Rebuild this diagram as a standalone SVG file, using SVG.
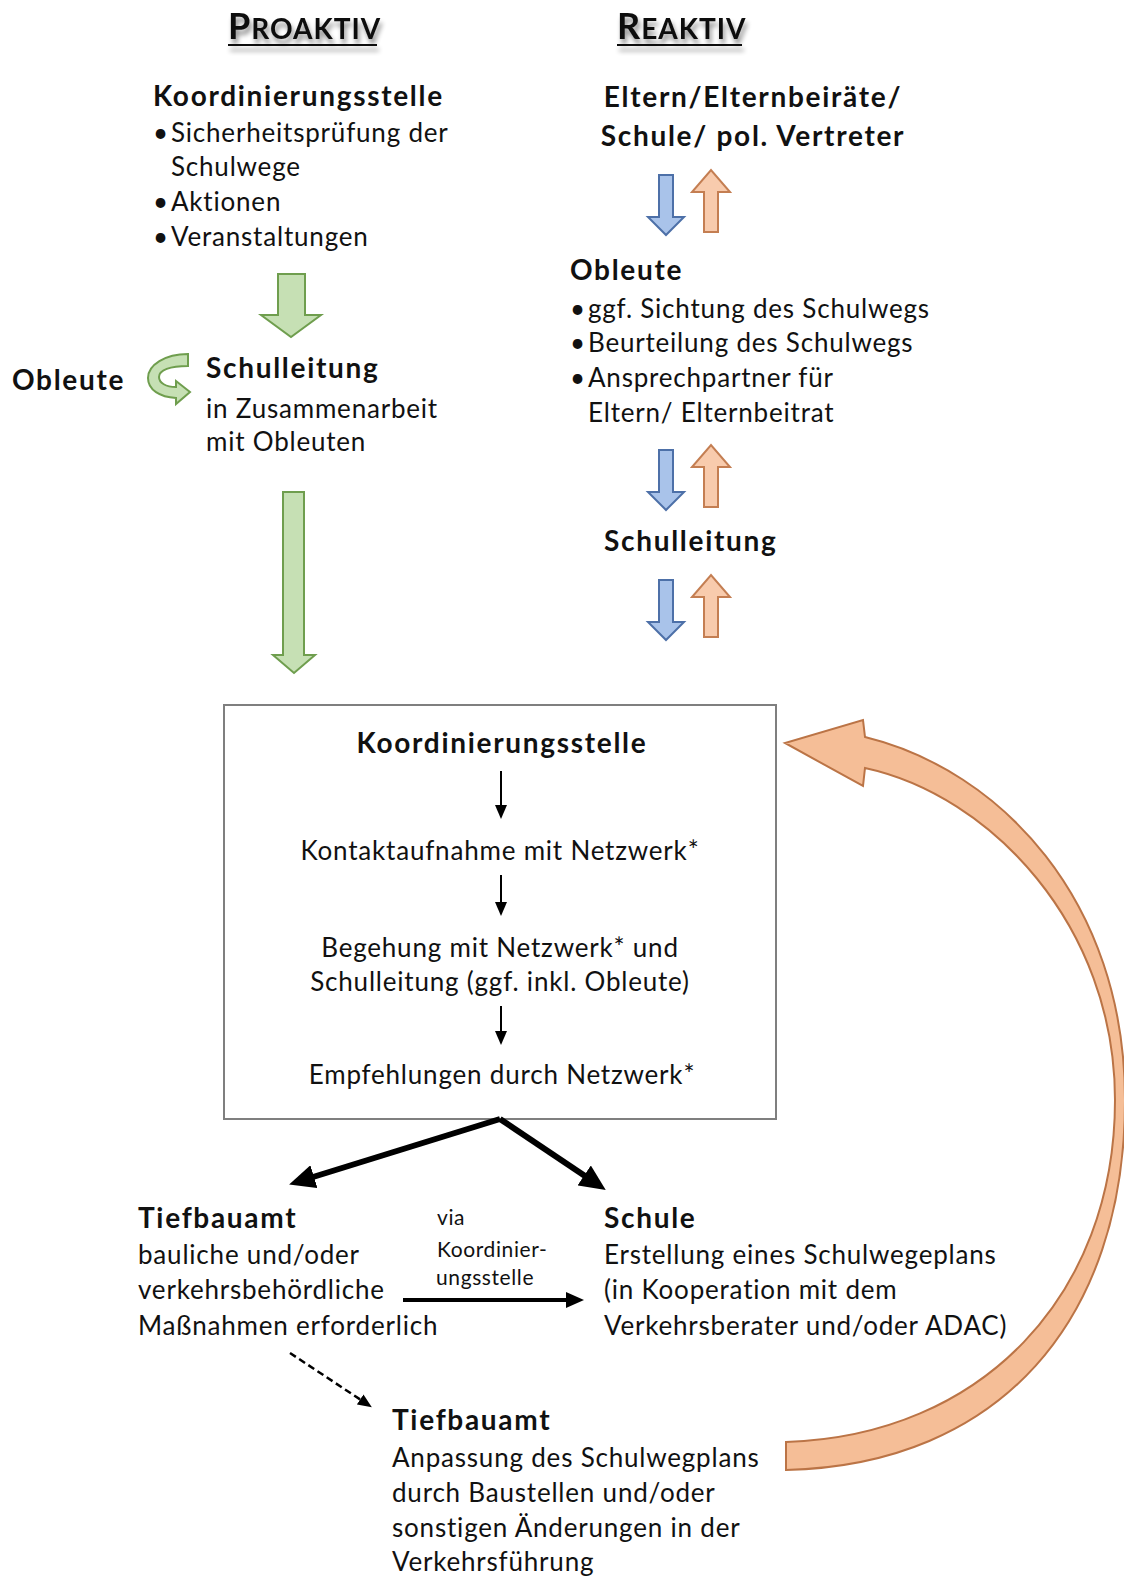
<svg xmlns="http://www.w3.org/2000/svg" width="1124" height="1578" viewBox="0 0 1124 1578">
<style>
text{font-family:Lato,"Open Sans","Liberation Sans",sans-serif;fill:#111}
.b{font-weight:bold;font-size:28px;letter-spacing:1.7px}
.r{font-size:26px;letter-spacing:0.8px}
.s{font-size:21px;letter-spacing:0.6px}
.mid{text-anchor:middle}
.hd{font-family:Lato,"Open Sans","Liberation Sans",sans-serif;font-weight:bold;fill:#111;letter-spacing:1px}
.green{fill:#C6E0B4;stroke:#6F9E4E;stroke-width:2;stroke-linejoin:miter}
.blue{fill:#A9C3EA;stroke:#4D70A8;stroke-width:2}
.org{fill:#F8CBAD;stroke:#C47E52;stroke-width:2}
.thin{stroke:#000;stroke-width:2;fill:none}
.thick{stroke:#000;stroke-width:6;fill:none}
</style>
<defs>
<filter id="sh" x="-10%" y="-30%" width="120%" height="180%">
<feGaussianBlur in="SourceAlpha" stdDeviation="2.5"/>
<feOffset dx="2" dy="5" result="o"/>
<feComponentTransfer><feFuncA type="linear" slope="0.45"/></feComponentTransfer>
<feMerge><feMergeNode/><feMergeNode in="SourceGraphic"/></feMerge>
</filter>
<marker id="ah" markerUnits="userSpaceOnUse" markerWidth="14" markerHeight="12" refX="1" refY="6" orient="auto" viewBox="0 0 14 12"><path d="M0,0 L14,6 L0,12 Z" fill="#000"/></marker>
<marker id="ahT" markerUnits="userSpaceOnUse" markerWidth="26" markerHeight="24" refX="1" refY="12" orient="auto" viewBox="0 0 26 24"><path d="M0,0 L26,12 L0,24 Z" fill="#000"/></marker>
<marker id="ahM" markerUnits="userSpaceOnUse" markerWidth="18" markerHeight="18" refX="1" refY="9" orient="auto" viewBox="0 0 18 18"><path d="M0,1 L18,9 L0,17 Z" fill="#000"/></marker>
<path id="down" d="M-7,0 L7,0 L7,42 L18,42 L0,60 L-18,42 L-7,42 Z"/>
<path id="up" d="M-7,62 L7,62 L7,22 L19,22 L0,0 L-19,22 L-7,22 Z"/>
</defs>
<rect width="1124" height="1578" fill="#fff"/>

<g id="header-proaktiv" filter="url(#sh)">
<text class="hd" x="228" y="39"><tspan font-size="36">P</tspan><tspan font-size="28">ROAKTIV</tspan></text>
<line x1="228" y1="45" x2="377" y2="45" stroke="#111" stroke-width="2"/>
</g>
<g id="header-reaktiv" filter="url(#sh)">
<text class="hd" x="617" y="39"><tspan font-size="36">R</tspan><tspan font-size="28">EAKTIV</tspan></text>
<line x1="617" y1="45" x2="742" y2="45" stroke="#111" stroke-width="2"/>
</g>

<g id="node-koord-left">
<text class="b" x="153" y="106">Koordinierungsstelle</text>
<text class="r" x="153" y="142">•</text><text class="r" x="171" y="142">Sicherheitsprüfung der</text>
<text class="r" x="171" y="176">Schulwege</text>
<text class="r" x="153" y="211">•</text><text class="r" x="171" y="211">Aktionen</text>
<text class="r" x="153" y="246">•</text><text class="r" x="171" y="246">Veranstaltungen</text>
</g>

<g id="node-obleute-left">
<text class="b" x="12" y="390">Obleute</text>
</g>

<g id="node-schulleitung-left">
<text class="b" x="206" y="378">Schulleitung</text>
<text class="r" x="206" y="418">in Zusammenarbeit</text>
<text class="r" x="206" y="451">mit Obleuten</text>
</g>

<g id="node-eltern">
<text class="b mid" x="753" y="107">Eltern/Elternbeiräte/</text>
<text class="b mid" x="753" y="146">Schule/ pol. Vertreter</text>
</g>

<g id="node-obleute-right">
<text class="b" x="570" y="280">Obleute</text>
<text class="r" x="570" y="318">•</text><text class="r" x="588" y="318" letter-spacing="0.5">ggf. Sichtung des Schulwegs</text>
<text class="r" x="570" y="352">•</text><text class="r" x="588" y="352">Beurteilung des Schulwegs</text>
<text class="r" x="570" y="387">•</text><text class="r" x="588" y="387">Ansprechpartner für</text>
<text class="r" x="588" y="422">Eltern/ Elternbeitrat</text>
</g>

<g id="node-schulleitung-right">
<text class="b" x="604" y="551">Schulleitung</text>
</g>

<g id="node-box">
<rect x="224" y="705" width="552" height="414" fill="#fff" stroke="#7f7f7f" stroke-width="2"/>
<text class="b mid" x="502" y="753">Koordinierungsstelle</text>
<text class="r mid" x="500" y="860">Kontaktaufnahme mit Netzwerk*</text>
<text class="r mid" x="500" y="957">Begehung mit Netzwerk* und</text>
<text class="r mid" x="500" y="991">Schulleitung (ggf. inkl. Obleute)</text>
<text class="r mid" x="502" y="1084">Empfehlungen durch Netzwerk*</text>
</g>

<g id="node-tiefbauamt-1">
<text class="b" x="138" y="1228">Tiefbauamt</text>
<text class="r" x="138" y="1264">bauliche und/oder</text>
<text class="r" x="138" y="1299">verkehrsbehördliche</text>
<text class="r" x="138" y="1335">Maßnahmen erforderlich</text>
</g>

<g id="node-schule">
<text class="b" x="604" y="1228">Schule</text>
<text class="r" x="604" y="1264">Erstellung eines Schulwegeplans</text>
<text class="r" x="604" y="1299">(in Kooperation mit dem</text>
<text class="r" x="604" y="1335">Verkehrsberater und/oder ADAC)</text>
</g>

<g id="node-tiefbauamt-2">
<text class="b" x="392" y="1430">Tiefbauamt</text>
<text class="r" x="392" y="1467">Anpassung des Schulwegplans</text>
<text class="r" x="392" y="1502">durch Baustellen und/oder</text>
<text class="r" x="392" y="1537">sonstigen Änderungen in der</text>
<text class="r" x="392" y="1571">Verkehrsführung</text>
</g>

<g id="connectors">
<polygon class="green" points="278,274 305,274 305,315 321,315 291,337 261,315 278,315"/>
<polygon class="green" points="283,492 304,492 304,655 315,655 294,673 273,655 283,655"/>
<path class="green" d="M188,354 C165,354 148,365 148,378 C148,390 160,397 176,398 L176,404 L190,392 L176,381 L176,387 C166,387 159,383 159,377 C159,370 170,366 188,366 Z"/>

<use href="#down" class="blue" x="666" y="175"/>
<use href="#up" class="org" x="711" y="170"/>
<use href="#down" class="blue" x="666" y="450"/>
<use href="#up" class="org" x="711" y="445"/>
<use href="#down" class="blue" x="666" y="580"/>
<use href="#up" class="org" x="711" y="575"/>

<line class="thin" x1="501" y1="771" x2="501" y2="806" marker-end="url(#ah)"/>
<line class="thin" x1="501" y1="875" x2="501" y2="903" marker-end="url(#ah)"/>
<line class="thin" x1="501" y1="1006" x2="501" y2="1032" marker-end="url(#ah)"/>

<line class="thick" x1="500" y1="1119" x2="313" y2="1177" marker-end="url(#ahT)"/>
<line class="thick" x1="500" y1="1119" x2="585" y2="1176" marker-end="url(#ahT)"/>

<line stroke="#000" stroke-width="4" x1="403" y1="1300" x2="567" y2="1300" marker-end="url(#ahM)"/>
<text class="s" x="437" y="1225">via</text>
<text class="s" x="437" y="1257">Koordinier-</text>
<text class="s" x="436" y="1285">ungsstelle</text>

<line stroke="#000" stroke-width="2.5" stroke-dasharray="7,4" x1="290" y1="1353" x2="361" y2="1400" marker-end="url(#ah)"/>

<path fill="#F5BE97" stroke="#BB7446" stroke-width="2" d="M865,737 C1000,770 1125,900 1125,1100 C1125,1320 1000,1465 786,1470 L786,1442 C982,1436 1115,1295 1115,1100 C1115,925 990,795 865,768 L863,786 L785,743 L863,720 Z"/>
</g>
</svg>
